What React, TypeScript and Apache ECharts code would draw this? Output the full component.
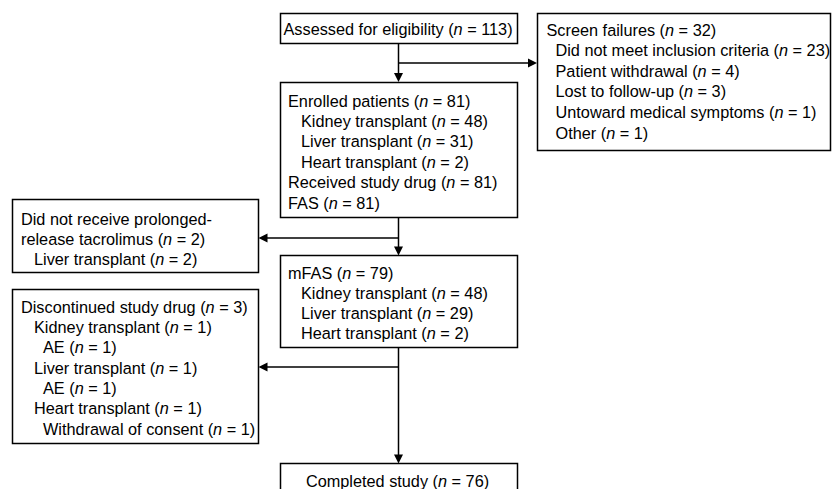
import React, { useEffect, useRef } from "react";
import * as echarts from "echarts";

// ---- Data (box texts and counts) ----
const assessedLabels = ["Assessed for eligibility"];
const assessedCounts = [113];
const assessedLevels = [0];

const screenLabels = [
  "Screen failures",
  "Did not meet inclusion criteria",
  "Patient withdrawal",
  "Lost to follow-up",
  "Untoward medical symptoms",
  "Other",
];
const screenCounts = [32, 23, 4, 3, 1, 1];
const screenLevels = [0, 1, 1, 1, 1, 1];

const enrolledLabels = [
  "Enrolled patients",
  "Kidney transplant",
  "Liver transplant",
  "Heart transplant",
  "Received study drug",
  "FAS",
];
const enrolledCounts = [81, 48, 31, 2, 81, 81];
const enrolledLevels = [0, 1, 1, 1, 0, 0];

const notReceivedLabels = ["Did not receive prolonged-", "release tacrolimus", "Liver transplant"];
const notReceivedCounts: (number | null)[] = [null, 2, 2];
const notReceivedLevels = [0, 0, 1];

const mfasLabels = ["mFAS", "Kidney transplant", "Liver transplant", "Heart transplant"];
const mfasCounts = [79, 48, 29, 2];
const mfasLevels = [0, 1, 1, 1];

const discLabels = [
  "Discontinued study drug",
  "Kidney transplant",
  "AE",
  "Liver transplant",
  "AE",
  "Heart transplant",
  "Withdrawal of consent",
];
const discCounts = [3, 1, 1, 1, 1, 1, 1];
const discLevels = [0, 1, 2, 1, 2, 1, 2];

const completedLabels = ["Completed study"];
const completedCounts = [76];

// ---- Layout ----
const FONT = "'Liberation Sans', Arial, Helvetica, sans-serif";
const FS = 16.3;
const LW = 1.5;
const COLOR = "#000";

function fmt(label: string, n: number | null) {
  return n === null ? label : `${label} ({i|n} = ${n})`;
}

function textEl(x: number, y: number, text: string, align: string = "left") {
  return {
    type: "text",
    x,
    y,
    silent: true,
    style: {
      text,
      fill: COLOR,
      fontSize: FS,
      fontFamily: FONT,
      align,
      verticalAlign: "middle",
      rich: {
        i: { fontStyle: "italic", fontSize: FS, fontFamily: FONT, fill: COLOR },
      },
    },
  };
}

function rectEl(x: number, y: number, w: number, h: number) {
  return {
    type: "rect",
    shape: { x, y, width: w, height: h },
    style: { fill: "#fff", stroke: COLOR, lineWidth: LW },
  };
}

function boxLines(
  labels: string[],
  counts: (number | null)[],
  levels: number[],
  x0: number,
  y0: number,
  step: number,
  indents: number[]
) {
  return labels.map((l, k) =>
    textEl(x0 + indents[levels[k]], y0 + k * step, fmt(l, counts[k]))
  );
}

function lineEl(x1: number, y1: number, x2: number, y2: number) {
  return {
    type: "line",
    shape: { x1, y1, x2, y2 },
    style: { stroke: COLOR, lineWidth: LW },
  };
}

function arrowDown(x: number, tip: number) {
  return {
    type: "polygon",
    shape: { points: [[x - 4.5, tip - 9], [x + 4.5, tip - 9], [x, tip]] },
    style: { fill: COLOR },
  };
}
function arrowRight(tip: number, y: number) {
  return {
    type: "polygon",
    shape: { points: [[tip - 9, y - 4.5], [tip - 9, y + 4.5], [tip, y]] },
    style: { fill: COLOR },
  };
}
function arrowLeft(tip: number, y: number) {
  return {
    type: "polygon",
    shape: { points: [[tip + 9, y - 4.5], [tip + 9, y + 4.5], [tip, y]] },
    style: { fill: COLOR },
  };
}

export default function App() {
  const ref = useRef<HTMLDivElement>(null);
  useEffect(() => {
    if (!ref.current) return;
    const chart = echarts.init(ref.current, null, { renderer: "svg" });
    const cx = 398.5;
    const elements: any[] = [];

    // connectors
    elements.push(lineEl(cx, 43, cx, 78));
    elements.push(arrowDown(cx, 82));
    elements.push(lineEl(cx, 63, 532, 63));
    elements.push(arrowRight(537, 63));

    elements.push(lineEl(cx, 217, cx, 251));
    elements.push(arrowDown(cx, 255.5));
    elements.push(lineEl(cx, 238, 263, 238));
    elements.push(arrowLeft(258.5, 238));

    elements.push(lineEl(cx, 347, cx, 459));
    elements.push(arrowDown(cx, 463.5));
    elements.push(lineEl(cx, 367, 263, 367));
    elements.push(arrowLeft(258.5, 367));

    // boxes
    elements.push(rectEl(280.5, 13.5, 237, 30));
    elements.push(...boxLines(assessedLabels, assessedCounts, assessedLevels, 283.5, 28.5, 20, [0]));

    elements.push(rectEl(537.5, 13.5, 293, 137));
    elements.push(...boxLines(screenLabels, screenCounts, screenLevels, 546.5, 29.5, 20.6, [0, 9]));

    elements.push(rectEl(280.5, 82.5, 237, 135));
    elements.push(...boxLines(enrolledLabels, enrolledCounts, enrolledLevels, 288, 100.5, 20.4, [0, 13]));

    elements.push(rectEl(12.5, 199.5, 246, 73));
    elements.push(...boxLines(notReceivedLabels, notReceivedCounts, notReceivedLevels, 21, 218.5, 20, [0, 13]));

    elements.push(rectEl(280.5, 255.5, 237, 92));
    elements.push(...boxLines(mfasLabels, mfasCounts, mfasLevels, 288, 272.5, 20.2, [0, 13]));

    elements.push(rectEl(12.5, 289.5, 246, 154));
    elements.push(...boxLines(discLabels, discCounts, discLevels, 21, 306.5, 20.35, [0, 13, 22]));

    elements.push(rectEl(280.5, 463.5, 237, 40));
    elements.push(textEl(397.5, 480.5, fmt(completedLabels[0], completedCounts[0]), "center"));

    chart.setOption({
      animation: false,
      backgroundColor: "#fff",
      graphic: { elements },
    });
    return () => chart.dispose();
  }, []);
  return (
    <div
      ref={ref}
      style={{ position: "fixed", left: 0, top: 0, width: 832, height: 489, background: "#fff" }}
    />
  );
}
